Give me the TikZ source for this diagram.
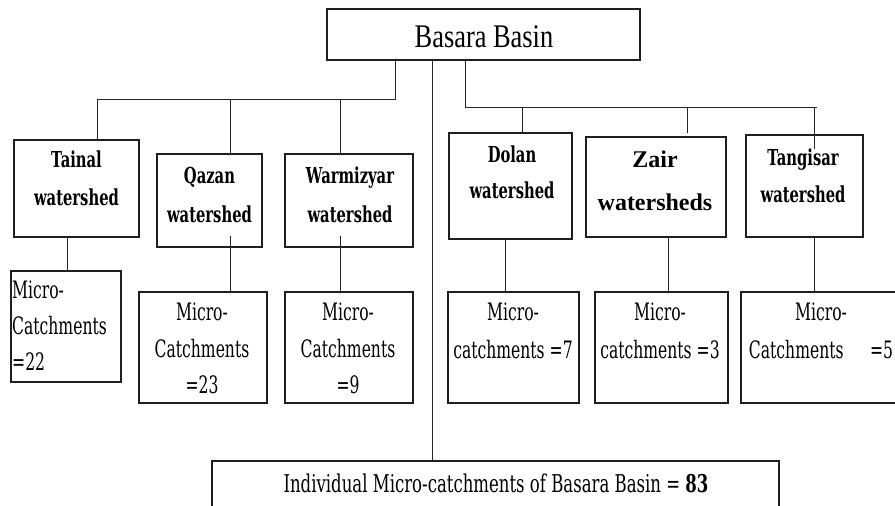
\documentclass[tikz,border=0pt]{standalone}
\usepackage{fontspec}
\setmainfont{Liberation Serif}
\newfontfamily\titlefont{Liberation Serif}[FakeStretch=0.8]
\newfontfamily\wsfont{DejaVu Serif}[FakeStretch=0.67]
\newfontfamily\mcfont{DejaVu Serif}[FakeStretch=0.65]
\newfontfamily\totfont{DejaVu Serif}[FakeStretch=0.675]
\begin{document}
\begin{tikzpicture}[x=1pt,y=-1pt,
  box/.style={draw=black!88, line width=1.2pt, inner sep=0pt},
  conn/.style={draw=black!85, line width=1pt},
  wstext/.style={inner sep=0pt, align=center, text=black},
  mctext/.style={inner sep=0pt, align=center, text=black,
    font=\mcfont\fontsize{24}{36.5}\selectfont}]
\clip (0,0) rectangle (895,506);
\fill[white] (0,0) rectangle (895,506);

% top
\node[box, minimum width=313pt, minimum height=51pt] (top) at (483.5,34.5) {};
\node[inner sep=0pt, anchor=base, font=\titlefont\fontsize{33}{40}\selectfont] (toptext) at (484,47) {Basara Basin};

% watershed boxes
\node[box, minimum width=125pt, minimum height=97pt] (tainal) at (76.5,188.5) {};
\node[box, minimum width=105pt, minimum height=93pt] (qazan) at (209.5,200.5) {};
\node[box, minimum width=128pt, minimum height=93pt] (warm) at (349,200.5) {};
\node[box, minimum width=123pt, minimum height=106pt] (dolan) at (510.5,186) {};
\node[box, minimum width=140pt, minimum height=100pt] (zair) at (656,187) {};
\node[box, minimum width=117pt, minimum height=102pt] (tang) at (804.5,186) {};

\node[wstext, font=\wsfont\bfseries\fontsize{22}{38}\selectfont] (tainalt) at (76.5,178.5) {Tainal\\watershed};
\node[wstext, font=\wsfont\bfseries\fontsize{22}{39}\selectfont] (qazant) at (209.5,195) {Qazan\\watershed};
\node[wstext, font=\wsfont\bfseries\fontsize{22}{39}\selectfont] (warmt) at (350,195) {Warmizyar\\watershed};
\node[wstext, font=\wsfont\bfseries\fontsize{22}{36}\selectfont] (dolant) at (512,172.5) {Dolan\\watershed};
\node[wstext, font=\bfseries\fontsize{24}{43}\selectfont] (zairt) at (655,180.5) {Zair\\watersheds};
\node[wstext, font=\wsfont\bfseries\fontsize{22}{37}\selectfont] (tangt) at (803,176) {Tangisar\\watershed};

% micro-catchment boxes
\node[box, minimum width=110pt, minimum height=111pt] (m1) at (66,326.5) {};
\node[box, minimum width=128pt, minimum height=111pt] (m2) at (203,347.5) {};
\node[box, minimum width=128pt, minimum height=111pt] (m3) at (349,347.5) {};
\node[box, minimum width=131pt, minimum height=111pt] (m4) at (513.5,347.5) {};
\node[box, minimum width=133pt, minimum height=111pt] (m5) at (661.5,347.5) {};
\node[box, minimum width=159pt, minimum height=111pt] (m6) at (820.5,347.5) {};

\node[mctext, align=left, anchor=west, font=\mcfont\fontsize{24}{36}\selectfont] (m1t) at (12,326) {Micro-\\Catchments\\=22};
\node[mctext] (m2t) at (202,348.5) {Micro-\\Catchments\\=23};
\node[mctext] (m3t) at (348,348.5) {Micro-\\Catchments\\=9};
\node[mctext, font=\mcfont\fontsize{24}{38}\selectfont] (m4t) at (513,331) {Micro-\\catchments =7};
\node[mctext, font=\mcfont\fontsize{24}{38}\selectfont] (m5t) at (660,331) {Micro-\\catchments =3};
\node[mctext, font=\mcfont\fontsize{24}{38}\selectfont] (m6t) at (821,331) {Micro-\\Catchments\hspace{1.1em}=5};

% bottom total box
\node[box, minimum width=567pt, minimum height=69pt] (total) at (495.5,495.5) {};
\node[inner sep=0pt, anchor=base, font=\totfont\fontsize{24.5}{30}\selectfont] (totalt) at (496,492) {Individual Micro-catchments of Basara Basin = \textbf{83}};

% bus junctions
\coordinate (jl) at (395,99);
\coordinate (jr) at (465,107);
\coordinate (jre) at (817,107);

% left bus
\draw[conn] ([xshift=-88.5pt]top.south) -- (jl) -| ([xshift=20.5pt]tainal.north);
\draw[conn] ([xshift=20.5pt]qazan.north) -- ([xshift=20.5pt]qazan.north |- jl);
\draw[conn] ([xshift=-9pt]warm.north) -- ([xshift=-9pt]warm.north |- jl);
% right bus
\draw[conn] ([xshift=-18.5pt]top.south) -- (jr) -- (jre);
\draw[conn] ([xshift=11.5pt]dolan.north) -- ([xshift=11.5pt]dolan.north |- jr);
\draw[conn] ([xshift=31pt,yshift=3pt]zair.north) -- ([xshift=31pt]zair.north |- jr);
\draw[conn] ([xshift=9.5pt,yshift=-15pt]tang.north) -- ([xshift=9.5pt]tang.north |- jr);
% centre trunk
\draw[conn] ([xshift=-51.5pt]top.south) -- ([xshift=-63.5pt]total.north);

% watershed to micro-catchments
\draw[conn] ([xshift=1pt]m1.north) -- ([xshift=1pt]m1.north |- tainal.south);
\draw[conn] ([xshift=27pt]m2.north) -- ++(0,-55);
\draw[conn] ([xshift=-9pt]m3.north) -- ++(0,-55);
\draw[conn] ([xshift=-8.5pt]m4.north) -- ([xshift=-8.5pt]m4.north |- dolan.south);
\draw[conn] ([xshift=6.5pt]m5.north) -- ([xshift=6.5pt]m5.north |- zair.south);
\draw[conn] ([xshift=-6.5pt]m6.north) -- ([xshift=-6.5pt]m6.north |- tang.south);
\end{tikzpicture}
\end{document}
